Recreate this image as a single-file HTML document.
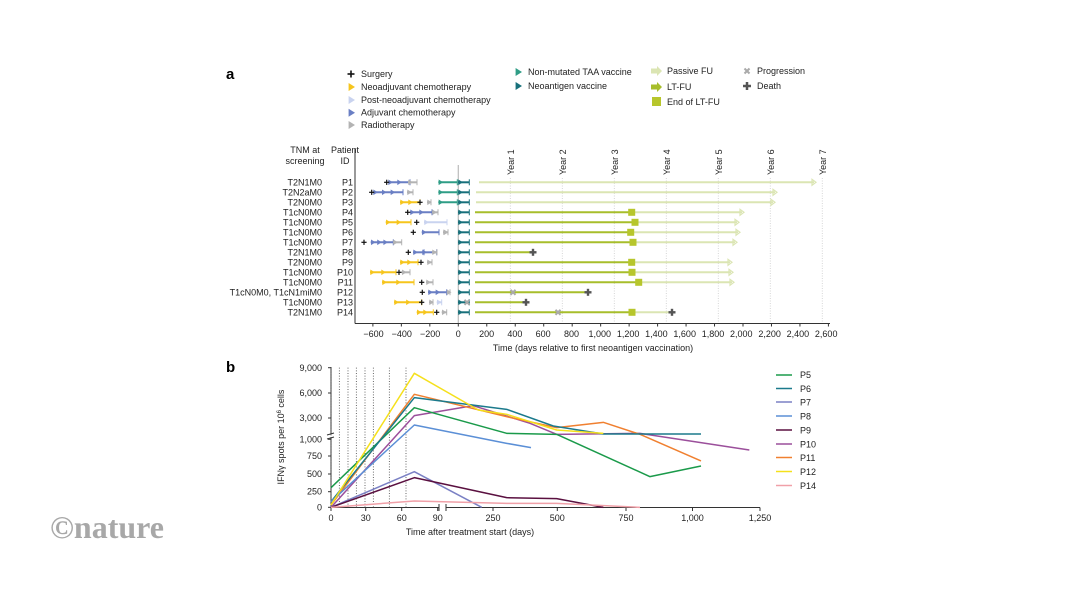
<!DOCTYPE html>
<html><head><meta charset="utf-8"><style>
html,body{margin:0;padding:0;background:#fff;}
svg{display:block;font-family:"Liberation Sans",sans-serif;}
</style></head><body>
<svg id="s" width="1066" height="600" viewBox="0 0 1066 600" xmlns="http://www.w3.org/2000/svg">
<rect width="1066" height="600" fill="#fff"/>
<text x="50" y="538" font-family="Liberation Serif,serif" font-weight="bold" font-size="32" fill="#a8a8a8">©nature</text>
<text x="226" y="79" font-size="15" font-weight="bold">a</text>
<text x="226" y="372" font-size="15" font-weight="bold">b</text>

<!-- legend a -->
<g font-size="9" fill="#222">
<text x="361" y="77">Surgery</text>
<text x="361" y="90">Neoadjuvant chemotherapy</text>
<text x="361" y="103">Post-neoadjuvant chemotherapy</text>
<text x="361" y="115.5">Adjuvant chemotherapy</text>
<text x="361" y="128">Radiotherapy</text>
<text x="528" y="75">Non-mutated TAA vaccine</text>
<text x="528" y="89">Neoantigen vaccine</text>
<text x="667" y="74">Passive FU</text>
<text x="667" y="90">LT-FU</text>
<text x="667" y="105">End of LT-FU</text>
<text x="757" y="74">Progression</text>
<text x="757" y="89">Death</text>
</g>
<g id="leg"></g>

<!-- panel a headers -->
<g font-size="9" fill="#222" text-anchor="middle">
<text x="305" y="153">TNM at</text><text x="305" y="164">screening</text>
<text x="345" y="153">Patient</text><text x="345" y="164">ID</text>
</g>
<g id="pa"></g>
<g font-size="9" fill="#222" text-anchor="end">
<text x="322" y="185.5">T2N1M0</text><text x="353" y="185.5">P1</text>
<text x="322" y="195.5">T2N2aM0</text><text x="353" y="195.5">P2</text>
<text x="322" y="205.5">T2N0M0</text><text x="353" y="205.5">P3</text>
<text x="322" y="215.5">T1cN0M0</text><text x="353" y="215.5">P4</text>
<text x="322" y="225.5">T1cN0M0</text><text x="353" y="225.5">P5</text>
<text x="322" y="235.5">T1cN0M0</text><text x="353" y="235.5">P6</text>
<text x="322" y="245.5">T1cN0M0</text><text x="353" y="245.5">P7</text>
<text x="322" y="255.5">T2N1M0</text><text x="353" y="255.5">P8</text>
<text x="322" y="265.5">T2N0M0</text><text x="353" y="265.5">P9</text>
<text x="322" y="275.5">T1cN0M0</text><text x="353" y="275.5">P10</text>
<text x="322" y="285.5">T1cN0M0</text><text x="353" y="285.5">P11</text>
<text x="322" y="295.5">T1cN0M0, T1cN1miM0</text><text x="353" y="295.5">P12</text>
<text x="322" y="305.5">T1cN0M0</text><text x="353" y="305.5">P13</text>
<text x="322" y="315.5">T2N1M0</text><text x="353" y="315.5">P14</text>
</g>
<g font-size="9" fill="#222" text-anchor="middle" id="axa">
<text x="373.5" y="337">−600</text><text x="401.8" y="337">−400</text><text x="430.1" y="337">−200</text>
<text x="458.3" y="337">0</text><text x="486.6" y="337">200</text><text x="514.9" y="337">400</text>
<text x="543.2" y="337">600</text><text x="571.5" y="337">800</text><text x="599.8" y="337">1,000</text>
<text x="628.1" y="337">1,200</text><text x="656.4" y="337">1,400</text><text x="684.7" y="337">1,600</text>
<text x="713" y="337">1,800</text><text x="741.3" y="337">2,000</text><text x="769.6" y="337">2,200</text>
<text x="797.9" y="337">2,400</text><text x="826.2" y="337">2,600</text>
<text x="593" y="351">Time (days relative to first neoantigen vaccination)</text>
</g>
<g font-size="9" fill="#222">
<text transform="translate(514,175) rotate(-90)">Year 1</text>
<text transform="translate(566,175) rotate(-90)">Year 2</text>
<text transform="translate(618,175) rotate(-90)">Year 3</text>
<text transform="translate(670,175) rotate(-90)">Year 4</text>
<text transform="translate(722,175) rotate(-90)">Year 5</text>
<text transform="translate(774,175) rotate(-90)">Year 6</text>
<text transform="translate(826,175) rotate(-90)">Year 7</text>
</g>

<!-- panel b -->
<g id="pb"></g>
<g font-size="9" fill="#222" text-anchor="end">
<text x="322" y="371">9,000</text><text x="322" y="396">6,000</text><text x="322" y="421">3,000</text>
<text x="322" y="442.5">1,000</text><text x="322" y="459">750</text><text x="322" y="477">500</text>
<text x="322" y="494.5">250</text><text x="322" y="510.5">0</text>
</g>
<g font-size="9" fill="#222" text-anchor="middle">
<text x="331" y="521">0</text><text x="365.7" y="521">30</text><text x="401.7" y="521">60</text><text x="437.7" y="521">90</text>
<text x="493" y="521">250</text><text x="557.3" y="521">500</text><text x="626" y="521">750</text><text x="692.5" y="521">1,000</text><text x="760" y="521">1,250</text>
<text x="470" y="535">Time after treatment start (days)</text>
<text transform="translate(284,437) rotate(-90)">IFNγ spots per 10<tspan font-size="6" dy="-3">6</tspan><tspan dy="3"> cells</tspan></text>
</g>
<g font-size="9" fill="#222">
<text x="800" y="378">P5</text><text x="800" y="392">P6</text><text x="800" y="405.5">P7</text>
<text x="800" y="419.5">P8</text><text x="800" y="433.5">P9</text><text x="800" y="447.5">P10</text>
<text x="800" y="461">P11</text><text x="800" y="475">P12</text><text x="800" y="489">P14</text>
</g>
</svg>
<script>
const NS="http://www.w3.org/2000/svg";
function el(p,t,a){const e=document.createElementNS(NS,t);for(const k in a)e.setAttribute(k,a[k]);p.appendChild(e);return e;}
const C={y:"#f6c51d",b:"#6a7fc4",g:"#b3b3b3",l:"#c9d3ef",t:"#2f9d86",n:"#17707b",p:"#dbe5b3",f:"#a7be2b",sq:"#b7c62c",d:"#555"};
function tri(g,x,y,c,s){s=s||3;el(g,"polygon",{points:`${x-s*0.6},${y-s} ${x+s},${y} ${x-s*0.6},${y+s}`,fill:c});}
function seg(g,x1,x2,y,c,n){el(g,"line",{x1,y1:y,x2,y2:y,stroke:c,"stroke-width":2});
 n=n||2;for(let i=0;i<n;i++){tri(g,x1+2+(x2-x1-4)*i/Math.max(n,1),y,c,2.8);}
 el(g,"line",{x1:x2,y1:y-3,x2:x2,y2:y+3,stroke:c,"stroke-width":1});}
function plus(g,x,y,c,s,w){s=s||3;w=w||1.2;el(g,"line",{x1:x-s,y1:y,x2:x+s,y2:y,stroke:c,"stroke-width":w});el(g,"line",{x1:x,y1:y-s,x2:x,y2:y+s,stroke:c,"stroke-width":w});}
function cross(g,x,y){el(g,"line",{x1:x-2.5,y1:y-2.5,x2:x+2.5,y2:y+2.5,stroke:"#aaa","stroke-width":2});el(g,"line",{x1:x-2.5,y1:y+2.5,x2:x+2.5,y2:y-2.5,stroke:"#aaa","stroke-width":2});}
function arrowEnd(g,x,y,c){el(g,"polygon",{points:`${x-4},${y-3} ${x},${y} ${x-4},${y+3}`,fill:"none",stroke:c,"stroke-width":1.2});}

// legend
const L=document.getElementById("leg");
plus(L,351,74,"#111",3.5,1.6);
tri(L,351,87,C.y,4);tri(L,351,100,C.l,4);tri(L,351,112.7,C.b,4);tri(L,351,125,C.g,4);
tri(L,518,72,C.t,4);tri(L,518,86,C.n,4);
function bigArrow(x,y,c){el(L,"polygon",{points:`${x-6},${y-2.5} ${x},${y-2.5} ${x},${y-5} ${x+5},${y} ${x},${y+5} ${x},${y+2.5} ${x-6},${y+2.5}`,fill:c});}
bigArrow(657,71,C.p);bigArrow(657,87,C.f);
el(L,"rect",{x:652,y:97,width:9,height:9,fill:C.sq});
cross(L,747,71);plus(L,747,86,"#555",4,2.5);

// panel a
const A=document.getElementById("pa");
const x0=458.3,k=0.14235;
el(A,"line",{x1:355,y1:148,x2:355,y2:323.5,stroke:"#333","stroke-width":1});
el(A,"line",{x1:355,y1:323.5,x2:830,y2:323.5,stroke:"#333","stroke-width":1});
for(let v=-600;v<=2600;v+=200){const x=x0+v*k;el(A,"line",{x1:x,y1:323.5,x2:x,y2:326.5,stroke:"#333"});}
for(let i=1;i<=7;i++){const x=x0+365.25*i*k;el(A,"line",{x1:x,y1:178,x2:x,y2:323,stroke:"#ccc","stroke-dasharray":"1,1.5","stroke-width":0.8});}
el(A,"line",{x1:x0,y1:165,x2:x0,y2:323,stroke:"#bbb","stroke-width":1.2});
const rows=[
 {pre:[["b",388,410,2],["g",408,417,1]],pl:[386.7],taa:1,pf:[479,816]},
 {pre:[["b",373,403,3],["g",407,413,1]],pl:[371.7],taa:1,pf:[476,777]},
 {pre:[["y",400,420,2],["g",427,431,1]],pl:[420],taa:1,pf:[476,775]},
 {pre:[["b",410,432,2],["g",432,438,1]],pl:[407.7],lt:631.7,pf:[475,744]},
 {pre:[["y",385.7,411,2],["l",424,447,1]],pl:[416.7],lt:635,pf:[475,739]},
 {pre:[["b",421.7,439,1],["g",443,448,2]],pl:[413.3],lt:630.7,pf:[475,740]},
 {pre:[["b",370.7,393.3,3],["g",393,401.7,1]],pl:[364],lt:633,pf:[475,737]},
 {pre:[["b",413,424,1],["b",422,436.7,1],["g",432,437,1]],pl:[408.3],ltonly:533,death:533},
 {pre:[["y",400,418,2],["g",427,432,1]],pl:[421],lt:631.7,pf:[475,732]},
 {pre:[["y",370,396,2],["g",401.7,410,1]],pl:[399],lt:632,pf:[475,733]},
 {pre:[["y",382,414,2],["g",426,433,1]],pl:[421.7],lt:638.7,pf:[475,734]},
 {pre:[["b",428,446.7,2],["g",446.7,450,1]],pl:[422.3],ltonly:588,death:588,prog:513},
 {pre:[["y",394,421.7,2],["g",429,433,1],["l",436.7,441.7,1]],pl:[421.7],ltonly:526,death:526,prog0:467},
 {pre:[["y",416.7,433.3,2],["g",441.7,446.7,1]],pl:[436.7],lt:632,pf:[475,672],death:672,prog:558,nopfarrow:1},
];
rows.forEach((r,i)=>{const y=182.3+i*10;
 if(r.pf){el(A,"line",{x1:r.lt?r.lt:r.pf[0],y1:y,x2:r.pf[1]-2,y2:y,stroke:C.p,"stroke-width":2});if(!r.nopfarrow)arrowEnd(A,r.pf[1],y,C.p);}
 if(r.lt){el(A,"line",{x1:475,y1:y,x2:r.lt,y2:y,stroke:C.f,"stroke-width":2});}
 if(r.ltonly){el(A,"line",{x1:475,y1:y,x2:r.ltonly,y2:y,stroke:C.f,"stroke-width":2});}
 r.pre.forEach(s=>seg(A,s[1],s[2],y,C[s[0]],s[3]));
 r.pl.forEach(x=>plus(A,x,y,"#111",2.6,1.2));
 if(r.taa)seg(A,438.3,457.3,y,C.t,1);
 seg(A,458,469.3,y,C.n,1);
 if(r.lt)el(A,"rect",{x:r.lt-3.5,y:y-3.5,width:7,height:7,fill:C.sq});
 if(r.prog)cross(A,r.prog,y);
 if(r.prog0)cross(A,r.prog0,y);
 if(r.death)plus(A,r.death,y,"#555",3.5,2.4);
});

// panel b
const B=document.getElementById("pb");
el(B,"line",{x1:331,y1:367,x2:331,y2:434,stroke:"#333"});
el(B,"line",{x1:331,y1:438,x2:331,y2:507.5,stroke:"#333"});
el(B,"line",{x1:327,y1:435,x2:334,y2:433,stroke:"#333"});el(B,"line",{x1:327,y1:439,x2:334,y2:437,stroke:"#333"});
[367.7,393,418,439.3,456,474,491.7,507.3].forEach(y=>el(B,"line",{x1:328,y1:y,x2:331,y2:y,stroke:"#333"}));
el(B,"line",{x1:331,y1:507.5,x2:439,y2:507.5,stroke:"#333"});
el(B,"line",{x1:446,y1:507.5,x2:760,y2:507.5,stroke:"#333"});
el(B,"line",{x1:439,y1:504,x2:439,y2:511,stroke:"#333"});el(B,"line",{x1:446,y1:504,x2:446,y2:511,stroke:"#333"});
[331,365.7,401.7,437.7,493,557.3,626,692.5,760].forEach(x=>el(B,"line",{x1:x,y1:507.5,x2:x,y2:511,stroke:"#333"}));
const G=el(B,"g",{transform:"translate(270,355) scale(0.33333)"});
[183,208,234,259,285,310,358,408].forEach(x=>el(G,"line",{x1:x,y1:38,x2:x,y2:457,stroke:"#444","stroke-width":2.4,"stroke-dasharray":"3,5"}));
const S=[
 ["#9b4f9b","183,457 433,182 610,152 780,205 860,238 1110,235 1438,285"],
 ["#f08030","183,450 433,118 710,185 860,218 1000,202 1110,238 1293,318"],
 ["#1a9a4a","183,398 433,158 710,235 860,238 1140,365 1293,333"],
 ["#1b7a8c","183,440 433,128 710,163 850,213 1000,237 1293,237"],
 ["#7a80c4","183,457 433,350 635,457"],
 ["#5b8fd6","183,440 433,210 710,265 783,278"],
 ["#5a1040","183,457 433,368 710,428 860,431 1000,457"],
 ["#f5e01c","183,450 433,55 625,165 710,178 860,225 1000,235"],
 ["#f0a0a8","183,457 433,438 710,445 860,445 1110,457"]];
S.forEach(s=>el(G,"polyline",{points:s[1],fill:"none",stroke:s[0],"stroke-width":4.5,"stroke-linejoin":"round"}));
const LC=["#1a9a4a","#1b7a8c","#7a80c4","#5b8fd6","#5a1040","#9b4f9b","#f08030","#f5e01c","#f0a0a8"];
const LY=[375,388.5,402,416,430,444,457.5,471.5,485.5];
LC.forEach((c,i)=>el(B,"line",{x1:776,y1:LY[i],x2:792,y2:LY[i],stroke:c,"stroke-width":1.5}));
</script>
</body></html>
